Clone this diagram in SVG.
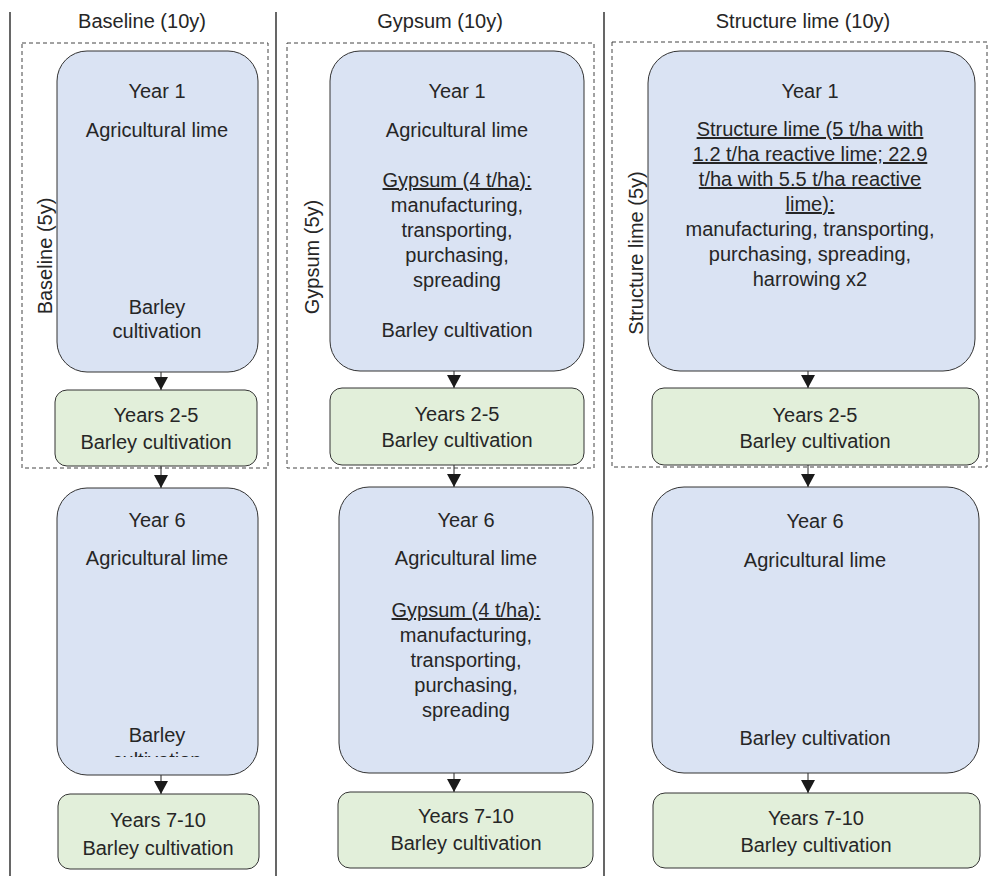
<svg xmlns="http://www.w3.org/2000/svg" width="989" height="876" viewBox="0 0 989 876">
<style>
text{font-family:"Liberation Sans",Arial,sans-serif;font-size:20px;fill:#262626;text-anchor:middle}
.blue{fill:#dae3f3;stroke:#333;stroke-width:1}
.green{fill:#e2efda;stroke:#333;stroke-width:1}
.dash{fill:none;stroke:#444;stroke-width:1;stroke-dasharray:4 3}
.div{stroke:#404040;stroke-width:1.6}
.arr{stroke:#222;stroke-width:1;marker-end:url(#ah)}
.u{text-decoration:underline}
</style>
<defs>
<marker id="ah" markerUnits="userSpaceOnUse" viewBox="0 0 13 14" refX="13" refY="7" markerWidth="13" markerHeight="14" orient="auto">
<path d="M0,0 L13,7 L0,14 z" fill="#1a1a1a"/>
</marker>
<clipPath id="clipB6"><rect x="57" y="488" width="201" height="269"/></clipPath>
</defs>

<g id="dividers">
<line class="div" x1="10" y1="12" x2="10" y2="876"/>
<line class="div" x1="276" y1="12" x2="276" y2="876"/>
<line class="div" x1="604" y1="12" x2="604" y2="876"/>
</g>

<g id="headers">
<text x="142" y="28">Baseline (10y)</text>
<text x="440" y="28">Gypsum (10y)</text>
<text x="803" y="28">Structure lime (10y)</text>
</g>

<g id="groups">
<g id="baseline-5y">
<rect class="dash" x="22" y="43" width="246" height="425"/>
<text transform="translate(52,256) rotate(-90)">Baseline (5y)</text>
</g>
<g id="gypsum-5y">
<rect class="dash" x="287" y="43" width="307" height="425"/>
<text transform="translate(319,257) rotate(-90)">Gypsum (5y)</text>
</g>
<g id="structure-5y">
<rect class="dash" x="612" y="42" width="375" height="425"/>
<text transform="translate(643,253) rotate(-90)">Structure lime (5y)</text>
</g>
</g>

<g id="connectors">
<line class="arr" x1="161" y1="372" x2="161" y2="390"/>
<line class="arr" x1="161" y1="466" x2="161" y2="488"/>
<line class="arr" x1="161" y1="775" x2="161" y2="794"/>
<line class="arr" x1="454" y1="371" x2="454" y2="388"/>
<line class="arr" x1="454" y1="465" x2="454" y2="487"/>
<line class="arr" x1="454" y1="773" x2="454" y2="792"/>
<line class="arr" x1="808" y1="371" x2="808" y2="388"/>
<line class="arr" x1="808" y1="465" x2="808" y2="487"/>
<line class="arr" x1="808" y1="773" x2="808" y2="793"/>
</g>

<g id="b-year1">
<rect class="blue" x="57" y="51" width="201" height="321" rx="30"/>
<text x="157" y="98">Year 1</text>
<text x="157" y="137">Agricultural lime</text>
<text x="157" y="314">Barley</text>
<text x="157" y="338">cultivation</text>
</g>
<g id="b-years2-5">
<rect class="green" x="55" y="390" width="202" height="76" rx="12"/>
<text x="156" y="422">Years 2-5</text>
<text x="156" y="449">Barley cultivation</text>
</g>
<g id="b-year6">
<rect class="blue" x="57" y="488" width="201" height="287" rx="30"/>
<text x="157" y="527">Year 6</text>
<text x="157" y="565">Agricultural lime</text>
<text x="157" y="742">Barley</text>
<text x="157" y="767" clip-path="url(#clipB6)">cultivation</text>
</g>
<g id="b-years7-10">
<rect class="green" x="58" y="794" width="201" height="75" rx="12"/>
<text x="158" y="827">Years 7-10</text>
<text x="158" y="855">Barley cultivation</text>
</g>

<g id="g-year1">
<rect class="blue" x="330" y="51" width="254" height="320" rx="30"/>
<text x="457" y="98">Year 1</text>
<text x="457" y="137">Agricultural lime</text>
<text class="u" x="457" y="187">Gypsum (4 t/ha):</text>
<text x="457" y="212">manufacturing,</text>
<text x="457" y="237">transporting,</text>
<text x="457" y="262">purchasing,</text>
<text x="457" y="287">spreading</text>
<text x="457" y="337">Barley cultivation</text>
</g>
<g id="g-years2-5">
<rect class="green" x="330" y="388" width="254" height="77" rx="12"/>
<text x="457" y="421">Years 2-5</text>
<text x="457" y="447">Barley cultivation</text>
</g>
<g id="g-year6">
<rect class="blue" x="339" y="487" width="254" height="286" rx="30"/>
<text x="466" y="527">Year 6</text>
<text x="466" y="565">Agricultural lime</text>
<text class="u" x="466" y="617">Gypsum (4 t/ha):</text>
<text x="466" y="642">manufacturing,</text>
<text x="466" y="667">transporting,</text>
<text x="466" y="692">purchasing,</text>
<text x="466" y="717">spreading</text>
</g>
<g id="g-years7-10">
<rect class="green" x="338" y="792" width="255" height="76" rx="12"/>
<text x="466" y="823">Years 7-10</text>
<text x="466" y="850">Barley cultivation</text>
</g>

<g id="s-year1">
<rect class="blue" x="648" y="51" width="327" height="320" rx="32"/>
<text x="810" y="98">Year 1</text>
<text class="u" x="810" y="136">Structure lime (5 t/ha with</text>
<text class="u" x="810" y="161">1.2 t/ha reactive lime; 22.9</text>
<text class="u" x="810" y="186">t/ha with 5.5 t/ha reactive</text>
<text class="u" x="810" y="211">lime):</text>
<text x="810" y="236">manufacturing, transporting,</text>
<text x="810" y="261">purchasing, spreading,</text>
<text x="810" y="286">harrowing x2</text>
</g>
<g id="s-years2-5">
<rect class="green" x="652" y="388" width="327" height="77" rx="12"/>
<text x="815" y="422">Years 2-5</text>
<text x="815" y="448">Barley cultivation</text>
</g>
<g id="s-year6">
<rect class="blue" x="652" y="487" width="327" height="286" rx="32"/>
<text x="815" y="528">Year 6</text>
<text x="815" y="567">Agricultural lime</text>
<text x="815" y="745">Barley cultivation</text>
</g>
<g id="s-years7-10">
<rect class="green" x="653" y="793" width="327" height="75" rx="12"/>
<text x="816" y="825">Years 7-10</text>
<text x="816" y="852">Barley cultivation</text>
</g>
</svg>
